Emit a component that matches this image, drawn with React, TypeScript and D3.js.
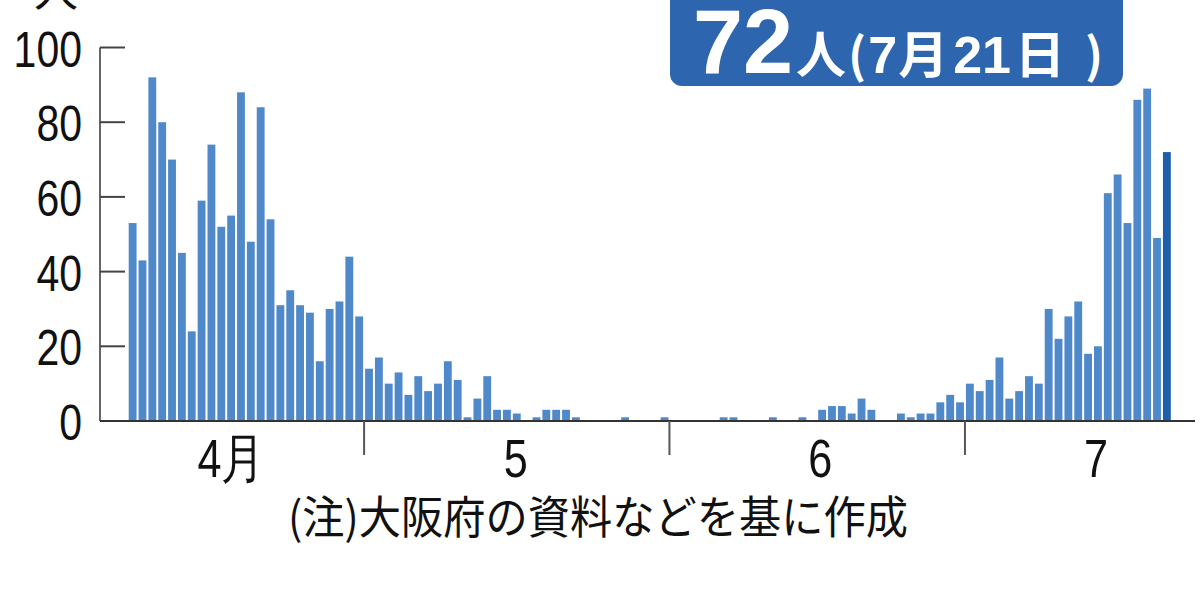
import React from 'react';
import * as d3 from 'd3';

// Daily new infections in Osaka (persons)
const aprilFirstDay = 7;
const aprilCases = [53, 43, 92, 80, 70, 45, 24, 59, 74, 52, 55, 88, 48, 84, 54, 31, 35, 31, 29, 16, 30, 32, 44, 28];
const mayCases = [14, 17, 10, 13, 7, 12, 8, 10, 16, 11, 1, 6, 12, 3, 3, 2, 0, 1, 3, 3, 3, 1, 0, 0, 0, 0, 1, 0, 0, 0, 1];
const juneCases = [0, 0, 0, 0, 0, 1, 1, 0, 0, 0, 1, 0, 0, 1, 0, 3, 4, 4, 2, 6, 3, 0, 0, 2, 1, 2, 2, 5, 7, 5];
const julyCases = [10, 8, 11, 17, 6, 8, 12, 10, 30, 22, 28, 32, 18, 20, 61, 66, 53, 86, 89, 49, 72];

const yTicks = [0, 20, 40, 60, 80, 100];
const unitLabel = '人';
const monthLabels = ['4月', '5', '6', '7'];
// label anchor: [month index (0-based), day of month]
const monthLabelAnchors: [number, number][] = [[3, 17.5], [4, 16.4], [5, 16.3], [6, 14.3]];
const noteText = '(注)大阪府の資料などを基に作成';

const YEAR = 2020;

type Day = { date: Date; value: number };

function buildDays(): Day[] {
  const out: Day[] = [];
  const push = (month: number, firstDay: number, values: number[]) =>
    values.forEach((v, i) => out.push({ date: new Date(Date.UTC(YEAR, month, firstDay + i)), value: v }));
  push(3, aprilFirstDay, aprilCases);
  push(4, 1, mayCases);
  push(5, 1, juneCases);
  push(6, 1, julyCases);
  return out;
}

const W = 1200;
const H = 600;

const BAR = '#5089ca';
const BAR_LATEST = '#1f5eab';
const BANNER = '#2d65af';
const DIGIT_FONT = '"Liberation Sans", Arial, sans-serif';
const CJK_FONT = '"Noto Sans CJK JP", "Noto Sans", sans-serif';

export default function App() {
  const days = buildDays();
  const latest = days[days.length - 1];

  const x = d3
    .scaleUtc()
    .domain([new Date(Date.UTC(YEAR, 3, 1)), new Date(Date.UTC(YEAR, 6, 22))])
    .range([68.6, 1171.8]);
  const y = d3.scaleLinear().domain([0, 100]).range([421, 47.5]);

  const monthTicks = d3.utcMonth.range(new Date(Date.UTC(YEAR, 4, 1)), new Date(Date.UTC(YEAR, 6, 2)));
  const axisLeft = 100;
  const baseY = y(0);

  return (
    <svg width={W} height={H} style={{ position: 'absolute', left: 0, top: 0, background: '#fff' }}>
      {/* bars */}
      <g>
        {days.map((d, i) => {
          const x0 = x(d.date);
          const x1 = x(d3.utcDay.offset(d.date, 1));
          const isLatest = i === days.length - 1;
          return (
            <rect
              key={i}
              x={x0 + 1}
              width={x1 - x0 - 2}
              y={y(d.value)}
              height={baseY - y(d.value)}
              fill={isLatest ? BAR_LATEST : BAR}
            />
          );
        })}
      </g>

      {/* y axis */}
      <line x1={axisLeft} x2={axisLeft} y1={y(100)} y2={baseY} stroke="#666" strokeWidth={2} />
      {yTicks.map((t) => (
        <g key={t}>
          {t > 0 && <line x1={axisLeft} x2={axisLeft + 25} y1={y(t)} y2={y(t)} stroke="#444" strokeWidth={2} />}
          <text
            transform={`translate(82, ${y(t) + 19}) scale(0.82, 1)`}
            textAnchor="end"
            fontFamily={DIGIT_FONT}
            fontSize={50}
            fill="#111"
          >
            {t}
          </text>
        </g>
      ))}
      <text x={56} y={7} textAnchor="middle" fontFamily={CJK_FONT} fontSize={44} fill="#111">
        {unitLabel}
      </text>

      {/* x axis */}
      <line x1={axisLeft} x2={1195} y1={baseY} y2={baseY} stroke="#333" strokeWidth={2} />
      {monthTicks.map((m, i) => (
        <line key={i} x1={x(m)} x2={x(m)} y1={baseY} y2={455} stroke="#555" strokeWidth={2} />
      ))}
      {monthLabels.map((lab, i) => {
        const [mo, day] = monthLabelAnchors[i];
        const cx = x(new Date(Date.UTC(YEAR, mo, 1) + (day - 1) * 86400000));
        return (
          <text
            key={lab}
            transform={`translate(${cx}, 477) scale(0.8, 1)`}
            textAnchor="middle"
            fontFamily={DIGIT_FONT}
            fontSize={54}
            fill="#111"
          >
            {lab}
          </text>
        );
      })}

      {/* source note */}
      <text
        x={288}
        y={534}
        textLength={620}
        lengthAdjust="spacingAndGlyphs"
        fontFamily={CJK_FONT}
        fontSize={45}
        fill="#111"
      >
        {noteText}
      </text>

      {/* latest value banner */}
      <rect x={670} y={-14} width={453} height={100} rx={12} fill={BANNER} />
      <text y={73} fill="#fff" fontWeight="bold">
        <tspan x={693} fontFamily={DIGIT_FONT} fontSize={90}>{latest.value}</tspan>
        <tspan dx={3} fontFamily={CJK_FONT} fontSize={50}>人</tspan>
        <tspan dx={2} fontFamily={CJK_FONT} fontSize={48}>(</tspan>
        <tspan dx={2} fontFamily={DIGIT_FONT} fontSize={52}>{latest.date.getUTCMonth() + 1}</tspan>
        <tspan dx={1} fontFamily={CJK_FONT} fontSize={50}>月</tspan>
        <tspan dx={5} fontFamily={DIGIT_FONT} fontSize={52}>{latest.date.getUTCDate()}</tspan>
        <tspan dx={4} fontFamily={CJK_FONT} fontSize={50}>日</tspan>
        <tspan dx={20} fontFamily={CJK_FONT} fontSize={48}>)</tspan>
      </text>
    </svg>
  );
}
